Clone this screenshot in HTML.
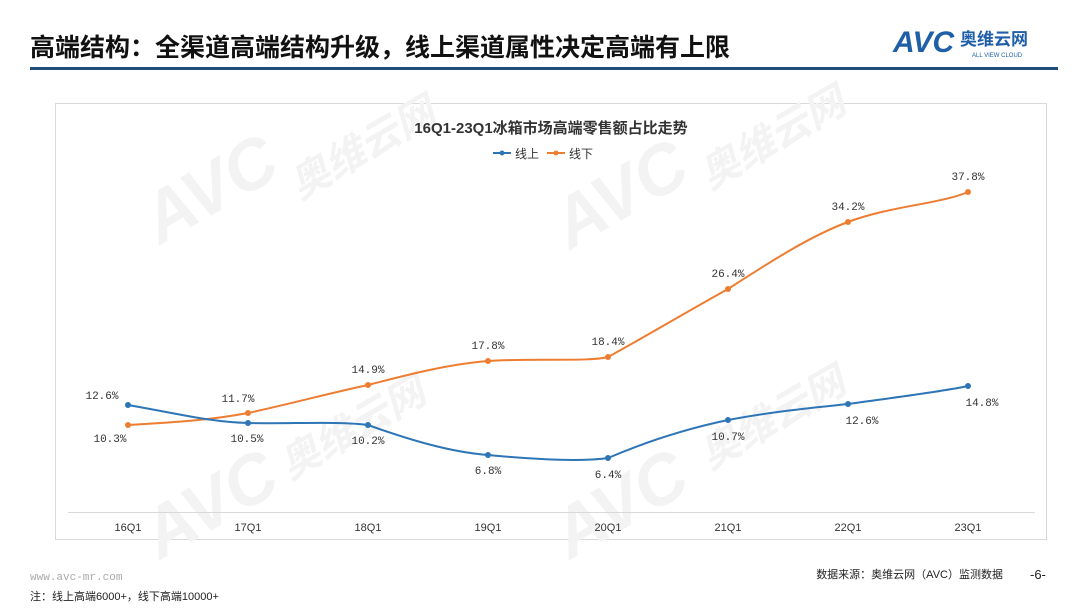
<!DOCTYPE html>
<html><head><meta charset="utf-8"><style>
body{margin:0;width:1080px;height:608px;background:#fff;overflow:hidden;font-family:"Liberation Sans","Noto Sans CJK SC",sans-serif}
</style></head><body>
<svg width="1080" height="608" xmlns="http://www.w3.org/2000/svg" font-family="Liberation Sans, Noto Sans CJK SC, sans-serif">
<text x="30" y="56" font-size="25" font-weight="bold" fill="#111">高端结构：全渠道高端结构升级，线上渠道属性决定高端有上限</text>
<text x="893" y="52" font-size="30" font-weight="bold" fill="#1f5fa8" font-style="italic">AVC</text>
<text x="960" y="45" font-size="17" font-weight="bold" fill="#1f5fa8">奥维云网</text>
<text x="972" y="57" font-size="6" fill="#1f5fa8">ALL VIEW CLOUD</text>
<rect x="30" y="67" width="1028" height="3" fill="#1f4e79"/>
<rect x="55.5" y="103.5" width="991" height="436" fill="#fff" stroke="#d9d9d9"/>
<g fill="#f3f3f3" font-weight="bold" font-style="italic">
<text x="160" y="245" font-size="70" transform="rotate(-30 160 245)">AVC</text>
<text x="300" y="200" font-size="40" transform="rotate(-30 300 200)">奥维云网</text>
<text x="570" y="250" font-size="70" transform="rotate(-30 570 250)">AVC</text>
<text x="710" y="190" font-size="40" transform="rotate(-30 710 190)">奥维云网</text>
<text x="160" y="560" font-size="70" transform="rotate(-30 160 560)">AVC</text>
<text x="290" y="480" font-size="40" transform="rotate(-30 290 480)">奥维云网</text>
<text x="570" y="560" font-size="70" transform="rotate(-30 570 560)">AVC</text>
<text x="710" y="470" font-size="40" transform="rotate(-30 710 470)">奥维云网</text>
</g>
<text x="551" y="133" font-size="15" font-weight="bold" fill="#333" text-anchor="middle">16Q1-23Q1冰箱市场高端零售额占比走势</text>
<line x1="493" y1="153" x2="511" y2="153" stroke="#2e75b6" stroke-width="2"/><circle cx="502" cy="153" r="2.5" fill="#2e75b6"/>
<text x="515" y="158" font-size="12" fill="#333">线上</text>
<line x1="547" y1="153" x2="565" y2="153" stroke="#ed7d31" stroke-width="2"/><circle cx="556" cy="153" r="2.5" fill="#ed7d31"/>
<text x="569" y="158" font-size="12" fill="#333">线下</text>
<line x1="68" y1="512.5" x2="1035" y2="512.5" stroke="#d9d9d9"/>
<g font-size="11" fill="#333" text-anchor="middle">
<text x="128" y="531">16Q1</text><text x="248" y="531">17Q1</text><text x="368" y="531">18Q1</text><text x="488" y="531">19Q1</text><text x="608" y="531">20Q1</text><text x="728" y="531">21Q1</text><text x="848" y="531">22Q1</text><text x="968" y="531">23Q1</text>
</g>
<path d="M128,425 C180,422 210,420 248,413 C290,404 330,393 368,385 C410,374 450,364 488,361 C530,358 590,362 608,357 C650,334 690,310 728,289 C770,262 810,236 848,222 C890,206 940,204 968,192" fill="none" stroke="#ed7d31" stroke-width="2"/>
<path d="M128,405 C180,414 210,422 248,423 C290,424 340,421 368,425 C410,440 450,452 488,455 C530,459 580,462 608,458 C650,440 690,428 728,420 C770,412 810,408 848,404 C890,398 940,392 968,386" fill="none" stroke="#2e75b6" stroke-width="2"/>
<g fill="#ed7d31"><circle cx="128" cy="425" r="3"/><circle cx="248" cy="413" r="3"/><circle cx="368" cy="385" r="3"/><circle cx="488" cy="361" r="3"/><circle cx="608" cy="357" r="3"/><circle cx="728" cy="289" r="3"/><circle cx="848" cy="222" r="3"/><circle cx="968" cy="192" r="3"/></g>
<g fill="#2e75b6"><circle cx="128" cy="405" r="3"/><circle cx="248" cy="423" r="3"/><circle cx="368" cy="425" r="3"/><circle cx="488" cy="455" r="3"/><circle cx="608" cy="458" r="3"/><circle cx="728" cy="420" r="3"/><circle cx="848" cy="404" r="3"/><circle cx="968" cy="386" r="3"/></g>
<g font-size="11" fill="#333" text-anchor="middle" font-family="Liberation Mono, monospace">
<text x="102" y="399">12.6%</text><text x="110" y="442">10.3%</text>
<text x="238" y="402">11.7%</text><text x="247" y="442">10.5%</text>
<text x="368" y="373">14.9%</text><text x="368" y="444">10.2%</text>
<text x="488" y="349">17.8%</text><text x="488" y="474">6.8%</text>
<text x="608" y="345">18.4%</text><text x="608" y="478">6.4%</text>
<text x="728" y="277">26.4%</text><text x="728" y="440">10.7%</text>
<text x="848" y="210">34.2%</text><text x="862" y="424">12.6%</text>
<text x="968" y="180">37.8%</text><text x="982" y="406">14.8%</text>
</g>
<text x="30" y="580" font-size="11" fill="#aaa" font-family="Liberation Mono, monospace">www.avc-mr.com</text>
<text x="30" y="600" font-size="11" fill="#222">注：线上高端6000+，线下高端10000+</text>
<text x="1003" y="578" font-size="11" fill="#222" text-anchor="end">数据来源：奥维云网（AVC）监测数据</text>
<text x="1030" y="579" font-size="13" fill="#222">-6-</text>
</svg>
</body></html>
